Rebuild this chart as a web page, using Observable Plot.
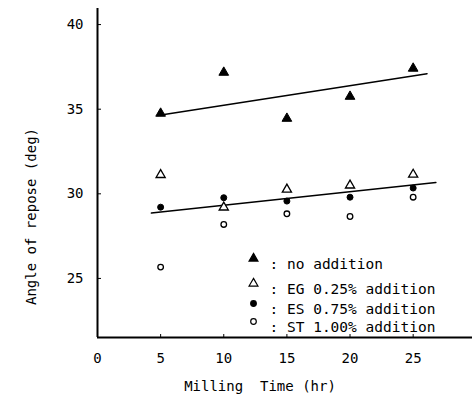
<!DOCTYPE html>
<html>
<head>
<meta charset="utf-8">
<script src="https://cdn.jsdelivr.net/npm/d3@7"></script>
<script src="https://cdn.jsdelivr.net/npm/@observablehq/plot@0.6"></script>
<style>
  html, body { margin: 0; padding: 0; background: #fff; }
  svg { display: block; }
</style>
</head>
<body>
<div id="chart"></div>
<script>
// ---- data ----
const millingTime = [5, 10, 15, 20, 25];
const noAddition = [34.75, 37.17, 34.45, 35.75, 37.41];
const eg025 = [31.12, 29.2, 30.26, 30.5, 31.14];
const es075 = [29.21, 29.77, 29.57, 29.8, 30.34];
const st100 = [25.67, 28.19, 28.82, 28.66, 29.8];
// fitted lines (endpoints as drawn)
const upperLineX = [4.77, 26.1];
const upperLineY = [34.63, 37.1];
const lowerLineX = [4.27, 26.8];
const lowerLineY = [28.86, 30.67];
const xTicks = [0, 5, 10, 15, 20, 25];
const yTicks = [25, 30, 35, 40];
const xDomain = [0, 29.7];
const yDomain = [21.51, 40.95];
const legendLabels = [": no addition", ": EG 0.25% addition", ": ES 0.75% addition", ": ST 1.00% addition"];

const font = "'DejaVu Sans Mono', 'Liberation Mono', monospace";
const pts = (ys) => millingTime.map((x, i) => ({x, y: ys[i]}));
const line = (xs, ys) => xs.map((x, i) => ({x, y: ys[i]}));

// legend specs: symbol, fill, size, offsets
const legendSym = [
  {symbol: "triangle", fill: "black", r: 3.3},
  {symbol: "triangle", fill: "white", r: 3.3},
  {symbol: "circle", fill: "black", r: 2.8},
  {symbol: "circle", fill: "white", r: 2.8}
];
const legendDy = [250, 275, 295, 313];

const legendMarks = legendLabels.flatMap((lab, i) => [
  Plot.dot([lab], {frameAnchor: "top-left", dx: 156, dy: legendDy[i], symbol: legendSym[i].symbol, r: legendSym[i].r, fill: legendSym[i].fill, stroke: "black", strokeWidth: 1.2}),
  Plot.text([lab], {frameAnchor: "top-left", dx: 172, dy: legendDy[i], text: d => d, textAnchor: "start", fontSize: 14.5, fill: "black"})
]);

const chart = Plot.plot({
  width: 475,
  height: 399,
  marginTop: 8,
  marginBottom: 62,
  marginLeft: 97,
  marginRight: 3,
  style: {fontFamily: font, fontSize: "14px", color: "black", background: "white"},
  x: {domain: xDomain},
  y: {domain: yDomain},
  marks: [
    Plot.axisX({ticks: xTicks, tickSize: 0, tickPadding: 16, label: null, fontSize: 14}),
    Plot.axisX({ticks: xTicks.filter(d => d > 0), tickSize: -3, tickFormat: () => "", label: null}),
    Plot.axisY({ticks: yTicks, tickSize: 0, tickPadding: 14, label: null, fontSize: 14}),
    Plot.axisY({ticks: yTicks, tickSize: -4, tickFormat: () => "", label: null}),
    Plot.ruleX([xDomain[0]], {stroke: "black", strokeWidth: 2}),
    Plot.ruleY([yDomain[0]], {stroke: "black", strokeWidth: 2}),
    Plot.line(line(upperLineX, upperLineY), {x: "x", y: "y", stroke: "black", strokeWidth: 1.5}),
    Plot.line(line(lowerLineX, lowerLineY), {x: "x", y: "y", stroke: "black", strokeWidth: 1.5}),
    Plot.dot(pts(noAddition), {x: "x", y: "y", symbol: "triangle", r: 3.6, fill: "black", stroke: "black", strokeWidth: 1}),
    Plot.dot(pts(eg025), {x: "x", y: "y", symbol: "triangle", r: 3.4, fill: "white", stroke: "black", strokeWidth: 1.3}),
    Plot.dot(pts(es075), {x: "x", y: "y", symbol: "circle", r: 3, fill: "black", stroke: "black", strokeWidth: 1}),
    Plot.dot(pts(st100), {x: "x", y: "y", symbol: "circle", r: 2.8, fill: "white", stroke: "black", strokeWidth: 1.3}),
    ...legendMarks,
    Plot.text(["Milling  Time (hr)"], {frameAnchor: "bottom", dx: -25, dy: 53, text: d => d, textAnchor: "middle", fontSize: 14}),
    Plot.text(["Angle of repose (deg)"], {frameAnchor: "bottom-left", dx: -62, dy: -121, rotate: -90, text: d => d, textAnchor: "middle", fontSize: 14})
  ]
});
document.getElementById("chart").appendChild(chart);
</script>
</body>
</html>
